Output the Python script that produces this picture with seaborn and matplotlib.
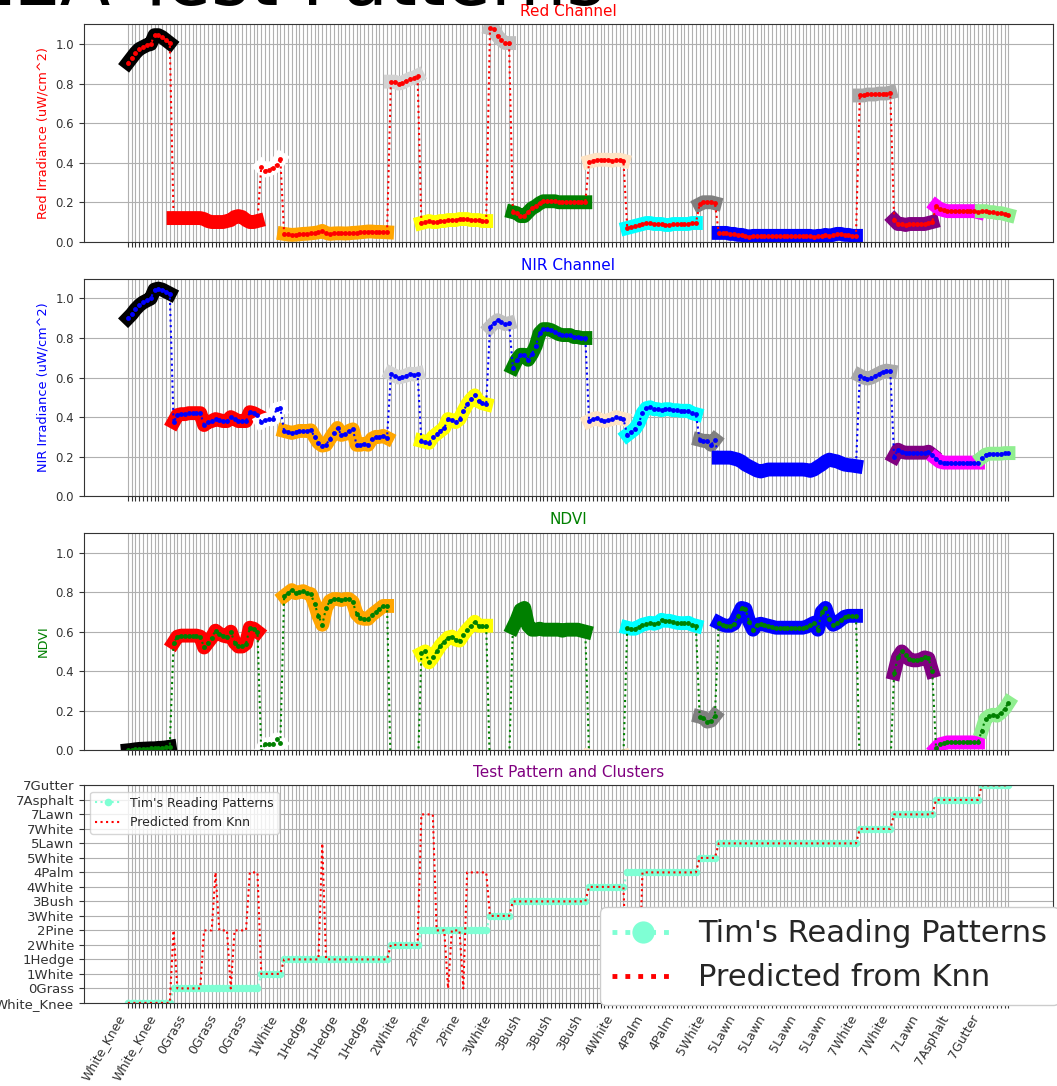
import numpy as np
import pandas as pd
import matplotlib
matplotlib.use("Agg")
import matplotlib.pyplot as plt
import seaborn as sns
from matplotlib.lines import Line2D

# ---------------- data ----------------
class_names = ["White_Knee", "0Grass", "1White", "1Hedge", "2White", "2Pine", "3White", "3Bush",
               "4White", "4Palm", "5White", "5Lawn", "7White", "7Lawn", "7Asphalt", "7Gutter"]
class_counts = [12, 23, 6, 28, 8, 18, 6, 20, 10, 19, 5, 37, 9, 11, 12, 8]

red_irr = [
    0.905, 0.93, 0.955, 0.975, 0.985, 0.995, 1.0, 1.045, 1.045, 1.035, 1.02, 1.005,
    0.12, 0.12, 0.12, 0.12, 0.12, 0.12, 0.12, 0.12, 0.115, 0.105, 0.10, 0.10, 0.10, 0.10, 0.105, 0.11,
    0.125, 0.13, 0.125, 0.11, 0.10, 0.10, 0.105,
    0.38, 0.36, 0.365, 0.375, 0.39, 0.42,
    0.04, 0.037, 0.035, 0.036, 0.038, 0.04, 0.041, 0.043, 0.045, 0.048,
    0.055, 0.045, 0.04, 0.042, 0.043, 0.043, 0.042, 0.043, 0.045, 0.046,
    0.048, 0.05, 0.052, 0.052, 0.05, 0.05, 0.049, 0.048,
    0.81, 0.81, 0.80, 0.805, 0.815, 0.825, 0.83, 0.84,
    0.095, 0.10, 0.105, 0.10, 0.10, 0.105, 0.105, 0.11, 0.11, 0.11, 0.115, 0.115, 0.115, 0.11, 0.11,
    0.11, 0.105, 0.105,
    1.08, 1.075, 1.04, 1.02, 1.005, 1.005,
    0.15, 0.145, 0.13, 0.13, 0.15, 0.17, 0.18, 0.195, 0.205, 0.205, 0.205, 0.205, 0.20, 0.20, 0.20,
    0.20, 0.20, 0.20, 0.20, 0.20,
    0.405, 0.41, 0.415, 0.415, 0.415, 0.415, 0.41, 0.415, 0.415, 0.41,
    0.07, 0.075, 0.08, 0.085, 0.09, 0.095, 0.095, 0.09, 0.09, 0.09, 0.085, 0.085, 0.09, 0.09, 0.09,
    0.09, 0.09, 0.095, 0.095,
    0.19, 0.20, 0.20, 0.20, 0.195,
    0.045, 0.045, 0.045, 0.04, 0.04, 0.035, 0.035, 0.03, 0.025,
    0.03, 0.03, 0.03, 0.03, 0.03, 0.03, 0.03, 0.03, 0.03, 0.03, 0.03, 0.03, 0.03, 0.03, 0.03, 0.03,
    0.025, 0.03, 0.03, 0.035, 0.03, 0.035, 0.04, 0.04, 0.035, 0.035, 0.03, 0.03,
    0.74, 0.74, 0.745, 0.745, 0.745, 0.75, 0.75, 0.75, 0.755,
    0.11, 0.09, 0.09, 0.085, 0.09, 0.09, 0.09, 0.09, 0.09, 0.095, 0.10,
    0.18, 0.165, 0.16, 0.155, 0.155, 0.155, 0.155, 0.155, 0.155, 0.155, 0.155, 0.15,
    0.155, 0.155, 0.15, 0.15, 0.145, 0.145, 0.14, 0.135,
]

nir_irr = [
    0.90, 0.92, 0.945, 0.965, 0.98, 0.99, 1.0, 1.045, 1.05, 1.045, 1.035, 1.025,
    0.375, 0.41, 0.415, 0.415, 0.42, 0.42, 0.42, 0.42, 0.36, 0.375, 0.38, 0.39, 0.385, 0.38, 0.38,
    0.40, 0.39, 0.38, 0.38, 0.38, 0.425, 0.42, 0.41,
    0.375, 0.385, 0.39, 0.39, 0.44, 0.445,
    0.33, 0.325, 0.32, 0.325, 0.33, 0.33, 0.33, 0.333, 0.30, 0.27, 0.256, 0.26, 0.29, 0.32, 0.345,
    0.31, 0.315, 0.33, 0.338, 0.26, 0.26, 0.265, 0.26, 0.29, 0.30, 0.30, 0.305, 0.295,
    0.62, 0.61, 0.60, 0.605, 0.61, 0.62, 0.615, 0.62,
    0.28, 0.275, 0.27, 0.30, 0.315, 0.33, 0.345, 0.39, 0.385, 0.375, 0.39, 0.43, 0.465, 0.49, 0.51,
    0.48, 0.47, 0.465,
    0.855, 0.875, 0.89, 0.88, 0.87, 0.875,
    0.65, 0.69, 0.715, 0.715, 0.69, 0.72, 0.76, 0.825, 0.845, 0.845, 0.84, 0.83, 0.82, 0.815, 0.815,
    0.815, 0.805, 0.805, 0.80, 0.80,
    0.38, 0.39, 0.395, 0.385, 0.38, 0.385, 0.39, 0.40, 0.395, 0.39,
    0.31, 0.325, 0.34, 0.37, 0.42, 0.445, 0.45, 0.44, 0.44, 0.435, 0.44, 0.44, 0.435, 0.435, 0.432,
    0.432, 0.432, 0.42, 0.415,
    0.285, 0.28, 0.28, 0.26, 0.285,
    0.195, 0.195, 0.195, 0.195, 0.19, 0.185, 0.175, 0.16, 0.15, 0.14, 0.13, 0.125, 0.13, 0.135,
    0.135, 0.135, 0.135, 0.135, 0.135, 0.135, 0.135, 0.135, 0.135, 0.133, 0.128, 0.135, 0.148,
    0.16, 0.175, 0.185, 0.18, 0.176, 0.168, 0.16, 0.157, 0.155, 0.152,
    0.61, 0.60, 0.595, 0.60, 0.61, 0.62, 0.63, 0.635, 0.632,
    0.20, 0.235, 0.225, 0.22, 0.22, 0.22, 0.22, 0.22, 0.22, 0.225, 0.21,
    0.19, 0.175, 0.17, 0.17, 0.17, 0.17, 0.17, 0.17, 0.17, 0.17, 0.17, 0.17,
    0.195, 0.21, 0.215, 0.215, 0.215, 0.215, 0.218, 0.218,
]

ndvi = [
    0.0, 0.002, 0.005, 0.007, 0.008, 0.009, 0.01, 0.01, 0.012, 0.013, 0.015, 0.018,
    0.545, 0.575, 0.58, 0.58, 0.58, 0.58, 0.58, 0.575, 0.52, 0.545, 0.57, 0.605, 0.59, 0.58, 0.575,
    0.60, 0.545, 0.525, 0.525, 0.54, 0.62, 0.615, 0.60,
    -0.005, 0.03, 0.03, 0.03, 0.055, 0.035,
    0.78, 0.795, 0.81, 0.795, 0.80, 0.805, 0.795, 0.79, 0.74, 0.68, 0.635, 0.72, 0.755, 0.765, 0.765,
    0.76, 0.765, 0.765, 0.75, 0.69, 0.67, 0.665, 0.665, 0.685, 0.70, 0.715, 0.73, 0.73,
    -0.14, -0.14, -0.14, -0.15, -0.15, -0.15, -0.15, -0.15,
    0.49, 0.50, 0.445, 0.47, 0.50, 0.53, 0.55, 0.57, 0.575, 0.56, 0.555, 0.585, 0.61, 0.63, 0.65,
    0.63, 0.63, 0.63,
    -0.11, -0.10, -0.09, -0.08, -0.07, -0.07,
    0.62, 0.66, 0.71, 0.72, 0.63, 0.61, 0.61, 0.615, 0.61, 0.61, 0.61, 0.61, 0.61, 0.605, 0.61,
    0.61, 0.61, 0.61, 0.605, 0.60,
    -0.03, -0.035, -0.04, -0.04, -0.045, -0.045, -0.04, -0.04, -0.035, -0.03,
    0.62, 0.615, 0.615, 0.625, 0.635, 0.64, 0.645, 0.64, 0.645, 0.66, 0.655, 0.655, 0.65, 0.645,
    0.643, 0.643, 0.645, 0.635, 0.63,
    0.17, 0.165, 0.145, 0.15, 0.175,
    0.645, 0.635, 0.63, 0.63, 0.64, 0.68, 0.72, 0.715, 0.65, 0.61, 0.635, 0.64, 0.635, 0.63, 0.625,
    0.62, 0.62, 0.62, 0.62, 0.62, 0.62, 0.62, 0.62, 0.625, 0.635, 0.645, 0.61, 0.70, 0.72, 0.665,
    0.635, 0.645, 0.66, 0.675, 0.68, 0.68, 0.68,
    -0.10, -0.105, -0.11, -0.11, -0.105, -0.10, -0.095, -0.09, -0.09,
    0.39, 0.47, 0.50, 0.48, 0.46, 0.455, 0.455, 0.46, 0.47, 0.465, 0.40,
    0.01, 0.03, 0.035, 0.04, 0.04, 0.04, 0.04, 0.04, 0.04, 0.04, 0.04, 0.04,
    0.10, 0.16, 0.175, 0.18, 0.175, 0.19, 0.21, 0.24,
]

predicted = [
    0, 0, 0, 0, 0, 0, 0, 0, 0, 0, 0, 0,
    5, 1, 1, 1, 1, 1, 1, 1,
    5, 5, 5, 9, 5, 5, 5, 1, 5, 5, 5, 5, 9, 9, 9,
    2, 2, 2, 2, 2, 2,
    3, 3, 3, 3, 3, 3, 3, 3, 3, 3, 11, 3, 3, 3, 3, 3, 3, 3, 3, 3, 3, 3, 3, 3, 3, 3, 3, 3,
    4, 4, 4, 4, 4, 4, 4, 4,
    13, 13, 13, 13, 5, 5, 5, 1, 5, 5, 5, 1, 9, 9, 9, 9, 9, 9,
    6, 6, 6, 6, 6, 6,
    7, 7, 7, 7, 7, 7, 7, 7, 7, 7, 7, 7, 7, 7, 7, 7, 7, 7, 7, 7,
    8, 8, 8, 8, 8, 8, 8, 8, 8, 8,
    1, 1, 1, 1, 9, 9, 9, 9, 9, 9, 9, 9, 9, 9, 9, 9, 9, 9, 9,
    10, 10, 10, 10, 10,
    11, 11, 11, 11, 11, 11, 11, 11, 11, 11, 11, 11, 11, 11, 11, 11, 11, 11, 11, 11,
    11, 11, 11, 11, 11, 11, 11, 11, 11, 11, 11, 11, 11, 11, 11, 11, 11,
    12, 12, 12, 12, 12, 12, 12, 12, 12,
    13, 13, 13, 13, 13, 13, 13, 13, 13, 13, 13,
    14, 14, 14, 14, 14, 14, 14, 14, 14, 14, 14, 14,
    15, 15, 15, 15, 15, 15, 15, 15,
]

# ---------------- styles ----------------
class_colors = ["black", "red", "white", "orange", "lightgray", "yellow", "silver", "green",
                "bisque", "cyan", "gray", "blue", "darkgray", "purple", "magenta", "lightgreen"]

sns.set_style("ticks")
plt.rcParams["font.family"] = ["DejaVu Sans"]
plt.rcParams["axes.edgecolor"] = "#333333"
plt.rcParams["xtick.color"] = "#333333"
plt.rcParams["ytick.color"] = "#333333"

n = len(red_irr)
idx = np.arange(n)
true_code = np.repeat(np.arange(len(class_names)), class_counts)
df = pd.DataFrame({
    "idx": idx,
    "red_irr": red_irr,
    "nir_irr": nir_irr,
    "ndvi": ndvi,
    "cls": [class_names[c] for c in true_code],
    "true_code": true_code,
    "pred_code": predicted,
})
palette = dict(zip(class_names, class_colors))

W_PX, H_PX = 1057, 1086
fig = plt.figure(figsize=(W_PX / 100, H_PX / 100), dpi=100)
left = 83.8 / W_PX
width = (1052.5 - 83.8) / W_PX
height = 217.5 / H_PX
tops = [24.3, 278.7, 532.8, 785.4]
axes = [fig.add_axes([left, 1 - (t + 217.5) / H_PX, width, height]) for t in tops]

panels = [("red_irr", "Red Channel", "red", "Red Irradiance (uW/cm^2)"),
          ("nir_irr", "NIR Channel", "blue", "NIR Irradiance (uW/cm^2)"),
          ("ndvi", "NDVI", "green", "NDVI")]

for ax, (col, title, c, ylab) in zip(axes[:3], panels):
    sns.lineplot(data=df, x="idx", y=col, hue="cls", hue_order=class_names, palette=palette,
                 linewidth=10, legend=False, estimator=None, ax=ax,
                 solid_capstyle="projecting", solid_joinstyle="round")
    sns.lineplot(data=df, x="idx", y=col, color=c, linestyle=":", linewidth=1.5, marker="o",
                 markersize=3.5, markeredgewidth=0, markerfacecolor=c, estimator=None, ax=ax)
    ax.set_ylim(0, 1.1)
    ax.set_yticks(np.arange(0, 1.01, 0.2))
    ax.set_title(title, color=c, fontsize=11, pad=6)
    ax.set_ylabel(ylab, color=c, fontsize=9.3)
    ax.set_xlabel("")

ax4 = axes[3]
sns.lineplot(data=df, x="idx", y="true_code", color="aquamarine", linestyle=":", linewidth=1.5,
             marker="o", markersize=5.5, markeredgewidth=0, markerfacecolor="aquamarine",
             estimator=None, label="Tim's Reading Patterns", ax=ax4)
sns.lineplot(data=df, x="idx", y="pred_code", color="red", linestyle=":", linewidth=1.5,
             estimator=None, label="Predicted from Knn", ax=ax4)
ax4.set_ylim(0, len(class_names) - 1)
ax4.set_yticks(np.arange(len(class_names)))
ax4.set_yticklabels(class_names, fontsize=9.5)
ax4.set_title("Test Pattern and Clusters", color="purple", fontsize=11, pad=6)
ax4.set_ylabel("")
ax4.set_xlabel("")
ax4.legend(loc="upper left", fontsize=9)

xlabels = [class_names[true_code[i]] if i % 8 == 0 else "" for i in idx]
for k, ax in enumerate(axes):
    ax.set_xticks(idx)
    ax.margins(x=0.05)
    ax.grid(True, color="#b0b0b0", linewidth=0.8)
    ax.set_axisbelow(True)
    ax.tick_params(axis="y", labelsize=8.5 if k < 3 else 9.5)
    if k < 3:
        ax.tick_params(axis="x", labelbottom=False)
    for s in ax.spines.values():
        s.set_visible(True)
ax4.set_xticklabels(xlabels, rotation=60, ha="right", fontsize=9)

# big (cut off) title at the top
fig.text(605 / W_PX, 1 - 5 / H_PX, "ZEA Test Patterns", ha="right", va="baseline",
         fontsize=53, color="black")

# magnified legend overlay at lower right
h1 = Line2D([], [], color="aquamarine", linestyle=":", linewidth=3.5, marker="o",
            markersize=16, markeredgewidth=0)
h2 = Line2D([], [], color="red", linestyle=":", linewidth=3.5)
fig.legend([h1, h2], ["Tim's Reading Patterns", "Predicted from Knn"], loc="upper left",
           bbox_to_anchor=(600 / W_PX, 1 - 907 / H_PX), fontsize=22, framealpha=1,
           borderaxespad=0, handlelength=2.0)

fig.savefig("out.png", dpi=100)
